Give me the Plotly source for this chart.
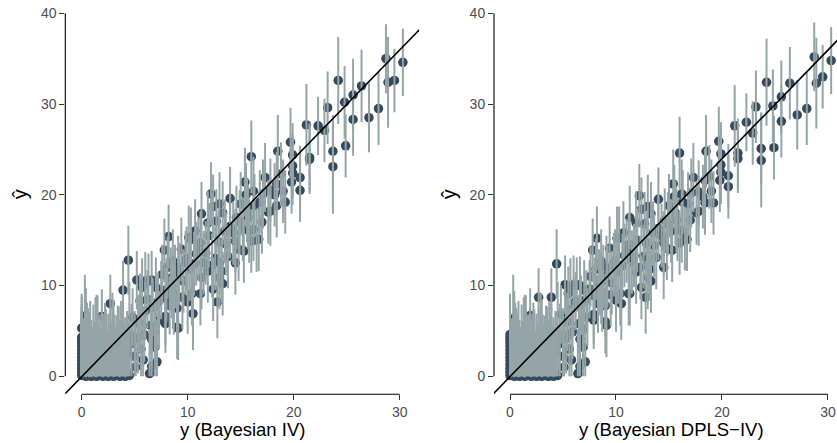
import plotly.graph_objects as go

# ---------------- data ----------------
# well-separated points: observed y (x-axis), fitted y-hat for each model, half width of interval
x_main = [
    30.3, 28.7, 28.9, 29.5, 24.2, 26.4, 25.6, 24.8, 23.2, 25.6,
    27.1, 28.0, 21.2, 22.3, 22.9, 23.7, 24.9, 23.7, 21.5, 19.7,
    19.9, 18.5, 16.0, 19.9, 19.9, 20.6, 19.8, 20.6, 17.3, 16.2,
    17.1, 18.4, 19.2, 18.4, 17.8, 16.3, 16.2, 16.7, 16.0, 19.0,
    15.4, 17.6, 15.7, 15.8, 14.0, 14.5, 14.5, 13.8, 13.0, 12.2,
    12.4, 11.3, 11.9, 13.3, 10.7, 10.3, 11.2, 12.7, 14.8, 13.0,
    13.2, 13.0, 13.3, 12.8, 11.9, 11.3, 11.2, 10.4, 10.5, 9.1,
    8.5, 8.6, 9.0, 9.0, 6.3, 5.5, 7.9, 7.9, 6.9, 6.0,
    4.4, 3.9, 5.2, 6.0, 6.6, 8.2, 7.8, 8.6, 9.4, 10.1,
    2.7, 1.9, 0.4, 0.0, 9.1, 5.7, 8.0, 8.8, 9.8, 10.8,
    11.5, 12.0, 12.6, 14.0, 14.6, 15.2, 15.0, 15.5, 17.0, 18.2,
    7.2, 7.5, 8.3, 9.6, 10.0, 12.4, 13.6, 15.3, 21.5, 16.5,
    4.8, 5.0, 5.4, 5.9, 6.2, 6.7, 7.0, 7.3, 7.6, 7.9,
    8.1, 8.4, 8.7, 9.2, 9.5, 9.9, 10.2, 10.6, 11.0, 11.7,
    12.3, 12.9, 13.5, 14.3, 14.9, 15.6, 16.8, 17.8, 18.8, 6.5,
]
yhat_iv = [
    34.6, 35.0, 32.4, 32.6, 32.6, 32.0, 31.0, 30.2, 29.6, 28.3,
    28.5, 29.5, 27.7, 27.6, 27.1, 24.8, 25.4, 23.1, 24.1, 25.8,
    24.4, 24.8, 24.2, 23.2, 22.4, 21.9, 21.4, 20.5, 21.9, 20.4,
    20.1, 21.2, 19.2, 18.8, 18.2, 18.8, 16.2, 15.1, 14.9, 20.4,
    21.4, 18.1, 17.5, 16.0, 19.6, 14.9, 12.5, 13.2, 19.0, 20.1,
    18.7, 17.9, 16.9, 18.0, 16.0, 15.1, 14.7, 17.1, 14.0, 12.5,
    11.6, 10.9, 10.2, 8.2, 11.6, 10.9, 9.1, 9.1, 6.9, 12.0,
    9.9, 9.1, 7.5, 5.4, 10.5, 8.3, 6.6, 5.8, 5.0, 7.2,
    12.8, 9.5, 10.6, 10.5, 10.6, 15.4, 13.9, 12.7, 14.0, 15.3,
    8.0, 6.6, 6.7, 5.3, 5.3, 9.8, 9.5, 11.0, 12.5, 13.5,
    12.5, 15.5, 13.0, 16.5, 17.5, 16.2, 19.0, 20.0, 17.0, 20.0,
    8.2, 9.5, 7.8, 10.5, 8.2, 9.6, 14.6, 13.8, 23.9, 15.0,
    6.5, 4.2, 5.8, 4.6, 8.5, 7.6, 9.8, 6.2, 11.2, 8.6,
    12.0, 10.8, 8.0, 11.3, 8.7, 13.0, 11.8, 12.4, 14.0, 13.6,
    12.2, 14.8, 16.0, 15.8, 17.0, 18.3, 19.2, 20.5, 22.3, 5.6,
]
yhat_dpls = [
    34.8, 35.2, 32.3, 33.0, 32.4, 32.3, 30.8, 29.8, 29.7, 28.1,
    28.8, 29.5, 27.6, 28.0, 26.8, 25.1, 25.2, 23.8, 24.6, 25.9,
    24.5, 24.8, 24.6, 23.3, 22.5, 22.1, 21.6, 20.9, 21.9, 20.1,
    20.2, 21.6, 19.1, 19.1, 18.2, 19.2, 16.0, 15.1, 14.7, 20.4,
    21.2, 18.0, 17.2, 16.2, 19.5, 14.7, 12.0, 13.1, 18.7, 19.9,
    18.4, 17.5, 16.9, 17.9, 15.8, 15.2, 14.5, 16.8, 14.1, 12.7,
    11.8, 10.9, 10.5, 8.7, 11.5, 9.1, 9.1, 9.1, 8.0, 12.0,
    10.2, 9.3, 7.8, 6.0, 10.1, 9.1, 6.8, 6.2, 5.2, 7.6,
    12.4, 8.7, 10.1, 10.1, 10.0, 15.2, 13.9, 12.7, 14.1, 15.2,
    8.7, 6.7, 6.4, 4.6, 5.6, 9.8, 9.6, 11.0, 12.3, 13.3,
    12.6, 15.0, 13.2, 16.3, 17.2, 16.0, 18.8, 19.8, 17.2, 19.8,
    8.5, 9.6, 8.0, 10.3, 8.4, 9.8, 14.4, 13.9, 24.0, 15.2,
    6.8, 4.5, 6.0, 4.9, 8.3, 7.9, 9.5, 6.5, 11.0, 8.9,
    11.8, 10.6, 8.3, 11.0, 9.0, 12.7, 11.5, 12.2, 13.8, 13.3,
    12.0, 14.6, 15.8, 15.5, 16.8, 18.0, 19.0, 20.3, 22.0, 5.8,
]
half_width = [
    3.7, 3.8, 5.0, 3.5, 4.8, 4.0, 4.0, 4.0, 4.0, 4.0,
    3.8, 4.0, 4.5, 3.2, 3.5, 4.0, 3.5, 5.2, 3.8, 3.8,
    3.5, 4.0, 4.0, 3.5, 3.5, 3.5, 3.5, 3.5, 3.8, 3.8,
    3.8, 3.5, 3.5, 3.5, 3.8, 3.5, 3.5, 3.5, 3.5, 3.5,
    3.8, 3.5, 3.5, 3.5, 3.5, 3.5, 3.5, 3.5, 3.5, 3.5,
    3.5, 3.5, 3.5, 3.5, 3.5, 3.5, 3.5, 3.5, 3.5, 3.5,
    3.5, 3.5, 3.5, 4.0, 3.5, 3.5, 3.5, 3.5, 4.0, 3.5,
    3.5, 3.5, 3.5, 3.5, 3.0, 3.0, 3.2, 3.2, 3.2, 3.2,
    3.8, 3.2, 3.2, 3.2, 3.2, 3.5, 3.5, 3.5, 3.5, 3.5,
    3.2, 3.0, 3.0, 3.5, 3.5, 3.2, 3.5, 3.5, 3.5, 3.5,
    3.5, 3.5, 3.5, 3.5, 3.5, 3.5, 3.5, 3.5, 3.5, 3.5,
    3.2, 3.2, 3.2, 3.5, 3.5, 3.5, 3.5, 3.5, 3.8, 3.5,
    3.2, 3.0, 3.2, 3.0, 3.2, 3.2, 3.3, 3.2, 3.3, 3.3,
    3.4, 3.4, 3.4, 3.4, 3.5, 3.5, 3.5, 3.5, 3.5, 3.5,
    3.5, 3.5, 3.5, 3.5, 3.5, 3.5, 3.5, 3.5, 3.5, 3.2,
]

# dense cluster of small observations (near zero): x, y-hat, interval low / high
x_low = [
    0.0, 0.0, 0.0, 0.0, 0.0, 0.0, 0.0, 0.0, 0.0, 0.0, 0.0, 0.0,
    0.1, 0.2, 0.3, 0.4, 0.5, 0.6, 0.7, 0.8, 0.9, 1.0,
    1.1, 1.2, 1.3, 1.4, 1.5, 1.6, 1.7, 1.8, 1.9, 2.0,
    2.1, 2.2, 2.3, 2.4, 2.5, 2.6, 2.7, 2.8, 2.9, 3.0,
    3.1, 3.2, 3.3, 3.4, 3.5, 3.6, 3.7, 3.8, 3.9, 4.0,
    4.1, 4.2, 4.3, 4.4, 4.5,
    0.3, 0.7, 1.1, 1.5, 1.9, 2.3, 2.7, 3.1, 3.5, 3.9, 4.3, 4.7, 5.0, 5.3, 5.6,
    0.5, 1.3, 2.1, 2.9, 3.7, 4.5, 5.1, 5.8, 6.9, 7.1, 6.6, 6.4, 6.6,
]
y_low = [
    0.1, 0.5, 0.9, 1.3, 1.7, 2.1, 2.5, 2.9, 3.3, 3.7, 4.0, 4.3,
    0.2, 0.1, 0.3, 0.0, 0.2, 0.1, 0.3, 0.2, 0.0, 0.1,
    0.2, 0.3, 0.1, 0.0, 0.2, 0.1, 0.3, 0.2, 0.1, 0.0,
    0.2, 0.1, 0.3, 0.2, 0.0, 0.1, 0.2, 0.3, 0.1, 0.0,
    0.2, 0.1, 0.3, 0.2, 0.1, 0.0, 0.2, 0.1, 0.3, 0.2,
    0.0, 0.1, 0.2, 0.3, 0.1,
    1.5, 2.2, 1.0, 2.8, 1.8, 3.1, 1.2, 2.5, 3.4, 1.9, 2.7, 3.6, 2.2, 4.2, 3.0,
    3.8, 4.4, 2.9, 4.9, 3.9, 4.6, 1.0, 1.8, 3.2, 1.6, 1.1, 0.3, 4.1,
]
lo_low = [
    0.0, 0.0, 0.0, 0.0, 0.0, 0.0, 0.0, 0.0, 0.0, 0.0, 0.3, 0.5,
    -0.1, 0.0, 0.0, -0.1, 0.0, 0.0, -0.1, 0.0, -0.1, 0.0,
    0.0, 0.0, -0.1, -0.1, 0.0, 0.0, 0.0, 0.0, 0.0, -0.1,
    0.0, 0.0, 0.0, 0.0, -0.1, 0.0, 0.0, 0.0, 0.0, -0.1,
    0.0, 0.0, 0.0, 0.0, 0.0, -0.1, 0.0, 0.0, 0.0, 0.0,
    -0.1, 0.0, 0.0, 0.0, 0.0,
    0.0, 0.0, 0.0, 0.0, 0.0, 0.0, 0.0, 0.0, 0.0, 0.0, 0.0, 0.0, 0.0, 0.3, 0.0,
    0.2, 0.5, 0.0, 0.9, 0.1, 0.7, 0.0, 0.0, 0.0, 0.0, 0.0, 0.0, 0.8,
]
hi_low = [
    4.6, 5.3, 6.1, 9.1, 5.6, 6.4, 7.8, 7.0, 6.2, 7.4, 6.8, 7.9,
    5.8, 6.4, 11.2, 5.1, 6.9, 7.5, 5.6, 8.3, 6.2, 5.4,
    7.9, 6.0, 5.3, 9.0, 6.6, 5.7, 6.8, 5.2, 7.3, 6.1,
    5.5, 8.1, 6.4, 5.0, 6.9, 5.8, 7.6, 5.4, 6.3, 8.4,
    5.9, 5.2, 6.7, 7.8, 5.5, 6.2, 5.1, 6.9, 8.0, 5.6,
    6.5, 5.3, 7.2, 6.0, 5.4,
    6.2, 7.0, 5.5, 8.9, 6.3, 7.4, 5.9, 6.8, 7.7, 6.1, 7.2, 8.0, 6.4, 8.6, 7.5,
    8.1, 8.7, 6.9, 9.2, 8.3, 10.4, 6.2, 7.6, 7.5, 6.3, 5.7, 5.2, 8.0,
]

# reference line  y-hat = intercept + slope * y
LINE_INTERCEPT = -0.04
LINE_SLOPE = 1.2

x_ticks = [0, 10, 20, 30]
y_ticks = [0, 10, 20, 30, 40]
x_titles = ["y (Bayesian IV)", "y (Bayesian DPLS\u2212IV)"]
y_title = "\u0177"

# ---------------- styling / layout ----------------
W, H = 837, 443
PT_COLOR = "#34495e"
BAR_COLOR = "#95a5a6"
FONT = "Liberation Sans, Arial, sans-serif"

X_DOMS = [[65.3 / W, 419.0 / W], [494.0 / W, 1.0]]
Y_DOM = [49.0 / H, 438.0 / H]
X_RANGES = [[-1.547, 31.82], [-1.509, 30.85]]
Y_RANGE = [-1.976, 40.7]
X_TITLE_CENTERS = [242.0, 671.0]
Y_TITLE_X = [20.0, 449.0]

fig = go.Figure()


def to_paper(v, rng, dom):
    return dom[0] + (v - rng[0]) / (rng[1] - rng[0]) * (dom[1] - dom[0])


for i, yhat in enumerate([yhat_iv, yhat_dpls]):
    xa = "x" if i == 0 else "x2"
    ya = "y" if i == 0 else "y2"
    # points
    fig.add_trace(go.Scatter(
        x=x_main + x_low, y=yhat + y_low, mode="markers",
        marker=dict(size=9.5, color=PT_COLOR, line=dict(width=0)),
        xaxis=xa, yaxis=ya, showlegend=False, hoverinfo="skip"))
    # interval bars (drawn over points)
    bx, by = [], []
    for xv, yv, e in zip(x_main, yhat, half_width):
        bx += [xv, xv, None]
        by += [max(yv - e, 0.0), yv + e, None]
    for xv, lo, hi in zip(x_low, lo_low, hi_low):
        bx += [xv, xv, None]
        by += [lo, hi, None]
    fig.add_trace(go.Scatter(
        x=bx, y=by, mode="lines", line=dict(color=BAR_COLOR, width=2),
        xaxis=xa, yaxis=ya, showlegend=False, hoverinfo="skip"))
    # reference line
    lx = [-3, 34]
    fig.add_trace(go.Scatter(
        x=lx, y=[LINE_INTERCEPT + LINE_SLOPE * v for v in lx], mode="lines",
        line=dict(color="black", width=1.6),
        xaxis=xa, yaxis=ya, showlegend=False, hoverinfo="skip"))

axis_common = dict(showgrid=False, zeroline=False, showline=False,
                   ticks="outside", ticklen=5, tickwidth=1, tickcolor="#333333",
                   tickfont=dict(family=FONT, size=14, color="#4d4d4d"),
                   fixedrange=True)

layout = dict(
    width=W, height=H, margin=dict(l=0, r=0, t=0, b=0),
    paper_bgcolor="white", plot_bgcolor="white", showlegend=False,
    xaxis=dict(domain=X_DOMS[0], range=X_RANGES[0], tickvals=x_ticks, anchor="y", **axis_common),
    yaxis=dict(domain=Y_DOM, range=Y_RANGE, tickvals=y_ticks, anchor="x", **axis_common),
    xaxis2=dict(domain=X_DOMS[1], range=X_RANGES[1], tickvals=x_ticks, anchor="y2", **axis_common),
    yaxis2=dict(domain=Y_DOM, range=Y_RANGE, tickvals=y_ticks, anchor="x2", **axis_common),
)

shapes = []
annotations = []
for i in range(2):
    xd, xr = X_DOMS[i], X_RANGES[i]
    # detached y axis line (0..40)
    shapes.append(dict(type="line", xref="paper", yref="paper",
                       x0=xd[0], x1=xd[0],
                       y0=to_paper(y_ticks[0], Y_RANGE, Y_DOM), y1=to_paper(y_ticks[-1], Y_RANGE, Y_DOM),
                       line=dict(color="black", width=1.1)))
    # detached x axis line (0..30)
    shapes.append(dict(type="line", xref="paper", yref="paper",
                       x0=to_paper(x_ticks[0], xr, xd), x1=to_paper(x_ticks[-1], xr, xd),
                       y0=Y_DOM[0], y1=Y_DOM[0],
                       line=dict(color="black", width=1.1)))
    annotations.append(dict(text=x_titles[i], xref="paper", yref="paper",
                            x=X_TITLE_CENTERS[i] / W, y=(H - 429.5) / H,
                            xanchor="center", yanchor="middle",
                            showarrow=False, font=dict(family=FONT, size=18.5, color="black")))
    annotations.append(dict(text=y_title, xref="paper", yref="paper",
                            x=Y_TITLE_X[i] / W, y=(H - 193.0) / H,
                            xanchor="center", yanchor="middle", textangle=-90,
                            showarrow=False, font=dict(family=FONT, size=20, color="black")))

layout["shapes"] = shapes
layout["annotations"] = annotations
fig.update_layout(**layout)

fig.write_html("out.html")
